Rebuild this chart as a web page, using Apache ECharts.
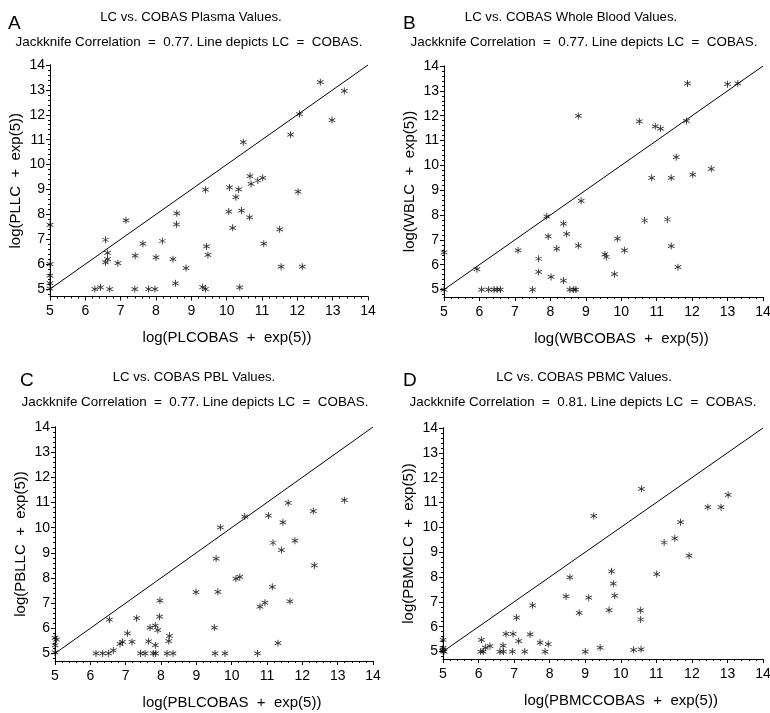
<!DOCTYPE html>
<html>
<head>
<meta charset="utf-8">
<script src="https://cdn.jsdelivr.net/npm/echarts@6/dist/echarts.min.js"></script>
<style>
    html, body { margin: 0; padding: 0; background: #fff; }
    #main { width: 770px; height: 713px; }
</style>
</head>
<body>
<div id="main"></div>
<script>
    // values, [cobas, lc] on the log(x + exp(5)) scale
    var plasma = [[5,7.58],[5,6.0],[5,5.54],[5,5.24],[5,5.02],[6.27,5],[6.43,5.07],[6.69,5],[7.40,5],[7.79,5],[7.97,5],
        [6.57,6.98],[6.63,6.45],[6.63,6.2],[6.57,6.07],[6.92,6.04],[7.15,7.76],[7.41,6.34],[7.63,6.82],[8.0,6.27],
        [8.18,6.93],[8.48,6.2],[8.55,5.23],[8.59,8.04],[8.58,7.6],[8.85,5.84],[9.32,5.08],[9.4,5],[9.4,8.99],[9.43,6.71],
        [9.47,6.37],[10.08,9.08],[10.06,8.11],[10.17,7.46],[10.26,8.69],[10.34,9.0],[10.42,8.15],[10.37,5.07],[10.47,10.9],
        [10.65,7.88],[10.66,9.54],[10.69,9.22],[10.88,9.36],[11.02,9.47],[11.05,6.82],[11.5,7.4],[11.54,5.9],[11.81,11.2],
        [12.02,8.91],[12.06,12.03],[12.14,5.9],[12.98,11.79],[12.65,13.31],[13.33,12.96]];
    var wholeBlood = [[5,6.5],[5,5],[5.93,5.82],[6.06,5],[6.26,5],[6.41,5],[6.5,5],[6.59,5],[7.09,6.58],[7.5,5],[7.67,6.24],
        [7.67,5.71],[7.9,7.95],[7.94,7.14],[8.02,5.51],[8.18,6.65],[8.37,7.65],[8.37,5.36],[8.46,7.24],[8.55,5],[8.66,5],
        [8.72,5],[8.79,6.77],[8.79,11.99],[8.87,8.57],[9.54,6.42],[9.58,6.31],[9.81,5.62],[9.89,7.05],[10.09,6.58],
        [10.51,11.77],[10.66,7.78],[10.86,9.5],[10.96,11.57],[11.11,11.48],[11.3,7.82],[11.41,9.5],[11.41,6.75],
        [11.55,10.33],[11.6,5.9],[11.84,11.79],[12.02,9.63],[12.54,9.86],[11.87,13.3],[13.0,13.27],[13.29,13.3]];
    var pbl = [[5,5.62],[5.04,5.55],[5,5.32],[5,5.04],[6.16,5],[6.35,5],[6.52,5],[6.65,5.12],[6.54,6.34],[6.84,5.38],
        [6.91,5.46],[7.05,5.8],[7.18,5.46],[7.31,6.4],[7.42,5],[7.55,5],[7.65,5.48],[7.69,6.03],[7.84,6.11],[7.84,5.33],
        [7.78,5],[7.85,5],[7.91,5.93],[7.96,6.46],[7.97,7.1],[8.17,5],[8.22,5.49],[8.24,5.7],[8.34,5],[8.99,7.44],
        [9.51,6.03],[9.53,5],[9.56,8.77],[9.61,7.45],[9.68,10.01],[9.81,5],[10.12,7.97],[10.23,8.04],[10.37,10.44],
        [10.73,5],[10.8,6.86],[10.94,7.02],[11.04,10.48],[11.15,7.65],[11.17,9.4],[11.31,5.41],[11.41,9.11],[11.45,10.21],
        [11.6,10.98],[11.65,7.07],[11.79,9.48],[12.31,10.66],[12.34,8.5],[13.19,11.09]];
    var pbmc = [[5,5.47],[5,5.15],[5,5.08],[5,5.02],[5.03,5],[6.08,5.47],[6.06,5],[6.13,5],[6.19,5.16],[6.32,5.22],
        [6.6,5],[6.7,5],[6.69,5.24],[6.77,5.71],[6.97,5.71],[6.95,5],[7.07,6.37],[7.13,5.42],[7.3,5],[7.45,5.69],
        [7.52,6.86],[7.73,5.36],[7.87,5],[7.96,5.3],[8.46,7.22],[8.57,7.99],[8.83,6.56],[9.1,7.17],[9.0,5],[9.24,10.46],
        [9.42,5.16],[9.67,6.67],[9.74,8.23],[9.79,7.73],[9.83,7.25],[10.36,5.07],[10.55,6.66],[10.56,6.29],[10.57,5.09],
        [10.58,11.55],[11.01,8.12],[11.22,9.39],[11.52,9.56],[11.68,10.21],[11.92,8.86],[12.45,10.81],[12.82,10.81],
        [13.02,11.31]];
    var identityLine = [[5,5],[14,14]];

    var letters = ['A', 'B', 'C', 'D'];
    var titles = ['LC vs. COBAS Plasma Values.', 'LC vs. COBAS Whole Blood Values.',
        'LC vs. COBAS PBL Values.', 'LC vs. COBAS PBMC Values.'];
    var correlations = ['0.77', '0.77', '0.77', '0.81'];
    var xNames = ['log(PLCOBAS  +  exp(5))', 'log(WBCOBAS  +  exp(5))', 'log(PBLCOBAS  +  exp(5))', 'log(PBMCCOBAS  +  exp(5))'];
    var yNames = ['log(PLLC  +  exp(5))', 'log(WBLC  +  exp(5))', 'log(PBLLC  +  exp(5))', 'log(PBMCLC  +  exp(5))'];
    var yTicks = [5, 6, 7, 8, 9, 10, 11, 12, 13, 14];
    var panels = [plasma, wholeBlood, pbl, pbmc];

    // layout of the four plots
    var boxes = [
        { left: 50, top: 65, width: 318, height: 231.5, letter: [3, 9], title: 186, sub: 184, ty: 6 },
        { left: 444, top: 66, width: 319, height: 231, letter: [398, 9], title: 566, sub: 579, ty: 6 },
        { left: 55, top: 427, width: 318, height: 234, letter: [15, 366], title: 189, sub: 190, ty: 366 },
        { left: 443, top: 428, width: 320, height: 231, letter: [398, 366], title: 579, sub: 578, ty: 366 }
    ];

    var font = 'Liberation Sans, Arial, sans-serif';
    var minorY = [];
    for (var v = 4.8; v < 14.05; v += 0.2) { minorY.push(Math.round(v * 10) / 10); }

    // asterisk marker
    var star = 'path://M4.4 0L5.6 0L5.6 10L4.4 10Z M0.37 3.02L0.97 1.98L9.63 6.98L9.03 8.02Z M0.97 8.02L0.37 6.98L9.03 1.98L9.63 3.02Z';

    var option = { animation: false, backgroundColor: '#fff', title: [], grid: [], xAxis: [], yAxis: [], series: [] };

    boxes.forEach(function (b, i) {
        option.title.push({ text: letters[i], left: b.letter[0], top: b.letter[1],
            textStyle: { fontFamily: font, fontSize: 19, fontWeight: 'normal', color: '#000' } });
        option.title.push({ text: titles[i], left: b.title, top: b.ty, textAlign: 'center',
            textStyle: { fontFamily: font, fontSize: 13.2, fontWeight: 'normal', color: '#000' } });
        option.title.push({ text: 'Jackknife Correlation  =  ' + correlations[i] + '. Line depicts LC  =  COBAS.',
            left: b.sub, top: b.ty + 25, textAlign: 'center',
            textStyle: { fontFamily: font, fontSize: 13.4, fontWeight: 'normal', color: '#000' } });

        option.grid.push({ left: b.left, top: b.top, width: b.width, height: b.height, outerBoundsMode: 'none' });

        option.xAxis.push({
            gridIndex: i, type: 'value', min: 5, max: 14, interval: 1,
            name: xNames[i], nameLocation: 'middle', nameGap: 34,
            nameTextStyle: { fontFamily: font, fontSize: 15, color: '#000', padding: [0, 0, 0, 36] },
            axisLine: { show: true, lineStyle: { color: '#000', width: 1 } },
            axisTick: { show: true, length: 4, lineStyle: { color: '#000' } },
            minorTick: { show: true, splitNumber: 5, length: 2, lineStyle: { color: '#000' } },
            axisLabel: { fontFamily: font, fontSize: 14, color: '#000', margin: 8 },
            splitLine: { show: false }
        });
        // main y axis with labels
        option.yAxis.push({
            gridIndex: i, type: 'value', min: 4.7, max: 14, position: 'left',
            name: yNames[i], nameLocation: 'middle', nameGap: 27, nameRotate: 90,
            nameTextStyle: { fontFamily: font, fontSize: 15, color: '#000' },
            axisLine: { show: true, onZero: false, lineStyle: { color: '#000', width: 1 } },
            axisTick: { show: true, length: 4, customValues: yTicks, lineStyle: { color: '#000' } },
            axisLabel: { fontFamily: font, fontSize: 14, color: '#000', margin: 5, customValues: yTicks },
            splitLine: { show: false }
        });
        // minor ticks only
        option.yAxis.push({
            gridIndex: i, type: 'value', min: 4.7, max: 14, position: 'left', offset: 0,
            axisLine: { show: true, onZero: false, lineStyle: { color: '#000', width: 1 } },
            axisTick: { show: true, length: 2, customValues: minorY, lineStyle: { color: '#000' } },
            axisLabel: { show: false },
            splitLine: { show: false }
        });

        option.series.push({
            type: 'line', xAxisIndex: i, yAxisIndex: i * 2, data: identityLine,
            symbol: 'none', lineStyle: { color: '#000', width: 1 }, silent: true
        });
        option.series.push({
            type: 'scatter', xAxisIndex: i, yAxisIndex: i * 2, data: panels[i],
            symbol: star, symbolSize: 7, itemStyle: { color: '#000' }
        });
    });

    var myChart = echarts.init(document.getElementById('main'));
    myChart.setOption(option);
</script>
</body>
</html>
